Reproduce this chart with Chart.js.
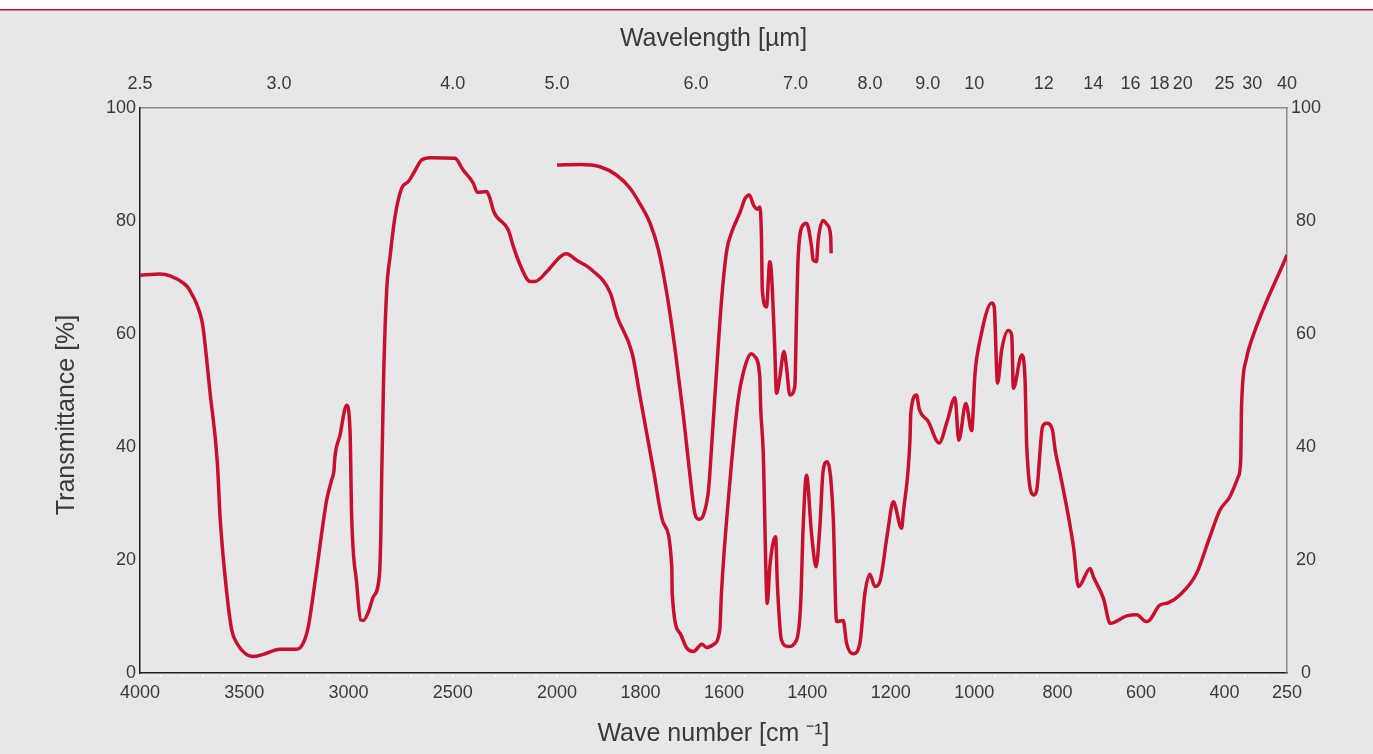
<!DOCTYPE html>
<html>
<head>
<meta charset="utf-8">
<script src="https://cdn.jsdelivr.net/npm/chart.js@4/dist/chart.umd.min.js"></script>
<style>
  html, body { margin: 0; padding: 0; background: #e6e7e8; }
  #wrap { position: relative; width: 1373px; height: 754px; }
</style>
</head>
<body>
<div id="wrap"><canvas id="irChart"></canvas></div>
<script>
// Main spectrum (wave number in cm-1, transmittance in %)
const mainWavenumbers = [
  4000, 3904, 3856, 3792, 3768, 3704, 3696, 3664, 3629, 3616, 3584, 3560, 3536, 3497, 3457,
  3409, 3329, 3249, 3217, 3193, 3153, 3105, 3081, 3070, 3066, 3041, 3009, 2993, 2985, 2961,
  2942, 2929, 2905, 2881, 2852, 2845, 2841, 2832, 2817, 2801, 2777, 2745, 2713, 2689, 2649,
  2609, 2490, 2450, 2402, 2383, 2338, 2322, 2303, 2234, 2210, 2170, 2130, 2106, 2050, 1992,
  1978, 1952, 1916, 1872, 1856, 1820, 1801, 1769, 1745, 1725, 1724, 1705, 1689, 1673, 1653,
  1641, 1626, 1610, 1606, 1586, 1566, 1554, 1534, 1526, 1514, 1512, 1506, 1496, 1490, 1476,
  1472, 1462, 1446, 1426, 1416, 1410, 1402, 1390, 1379, 1370, 1362, 1352, 1338, 1330, 1314,
  1306, 1290, 1274, 1262, 1250, 1238, 1226, 1208, 1194, 1174, 1170, 1154, 1152, 1138, 1132,
  1110, 1084, 1065, 1046, 1037, 1020, 1006, 998, 986, 958, 952, 944, 934, 918, 910,
  906, 886, 878, 874, 857, 850, 836, 826, 812, 806, 794, 762, 750, 722, 714,
  690, 674, 634, 610, 588, 579, 555, 535, 507, 467, 435, 411, 387, 367, 361,
  359, 348, 335, 250
];
const mainTransmittance = [
  70.4, 70.6, 70.3, 69.0, 68.1, 62.5, 60.7, 49.6, 37.2, 27.6, 14.2, 7.6, 5.3, 3.5, 2.9,
  3.3, 4.2, 4.2, 5.3, 8.2, 18.2, 30.6, 34.2, 35.8, 38.0, 42.1, 47.4, 43.0, 27.7, 15.9,
  9.4, 9.3, 10.8, 13.5, 17.3, 25.0, 35.0, 52.0, 67.8, 73.7, 80.8, 85.8, 87.0, 88.4, 90.8,
  91.2, 91.1, 89.0, 86.7, 85.1, 85.2, 84.0, 81.6, 78.4, 75.5, 71.6, 69.3, 69.3, 71.0, 73.7,
  74.2, 73.0, 71.3, 67.2, 63.1, 56.6, 48.9, 35.9, 26.5, 18.8, 14.1, 7.0, 4.4, 3.8, 5.1,
  4.5, 5.0, 7.6, 14.1, 33.6, 48.3, 53.0, 56.5, 56.0, 52.4, 47.1, 39.5, 12.3, 18.8, 24.1,
  16.0, 5.8, 4.7, 5.8, 12.3, 25.9, 35.0, 24.7, 18.8, 25.9, 35.9, 37.4, 27.7, 9.1, 9.3,
  5.3, 3.4, 5.3, 14.1, 17.5, 15.3, 16.2, 24.7, 30.3, 25.6, 28.3, 41.2, 46.0, 49.2, 46.8,
  44.5, 40.7, 44.5, 48.7, 41.2, 47.7, 42.9, 53.0, 58.9, 65.5, 64.8, 51.3, 57.2, 60.6, 59.8,
  50.4, 56.3, 51.9, 40.1, 31.5, 32.4, 43.6, 44.2, 42.9, 39.5, 35.3, 22.4, 15.3, 18.5, 17.0,
  13.2, 8.8, 10.1, 10.3, 9.1, 9.4, 12.0, 12.4, 13.8, 17.6, 24.1, 28.8, 31.2, 34.7, 37.7,
  47.1, 55.4, 58.9, 74.0
];

// Second (thinner sample) trace between 2000 and ~1340 cm-1
const thinWavenumbers = [
  2000, 1945, 1897, 1857, 1825, 1801, 1777, 1757, 1737, 1717, 1697, 1681, 1669, 1659, 1649,
  1637, 1629, 1617, 1605, 1593, 1581, 1561, 1549, 1539, 1529, 1520, 1514, 1510, 1508, 1498,
  1490, 1486, 1478, 1474, 1466, 1456, 1450, 1442, 1430, 1426, 1422, 1410, 1402, 1390, 1386,
  1378, 1374, 1362, 1352, 1344, 1343
];
const thinTransmittance = [
  89.9, 90.0, 89.6, 88.1, 85.8, 83.0, 79.6, 74.9, 67.2, 57.2, 45.4, 34.7, 28.0, 27.2, 28.0,
  32.4, 40.7, 54.2, 66.6, 74.9, 78.1, 81.6, 84.0, 84.6, 82.8, 82.1, 82.5, 77.2, 67.8, 64.8,
  72.8, 70.7, 57.2, 49.5, 52.4, 56.9, 54.2, 49.2, 50.7, 63.1, 73.7, 79.3, 79.6, 75.5, 73.1,
  72.8, 76.6, 80.1, 79.3, 77.2, 74.3
];

// Axis ticks
const waveNumberTicks = [4000, 3500, 3000, 2500, 2000, 1800, 1600, 1400, 1200, 1000, 800, 600, 400, 250];
const wavelengthTicks = [2.5, 3.0, 4.0, 5.0, 6.0, 7.0, 8.0, 9.0, 10, 12, 14, 16, 18, 20, 25, 30, 40];
const wavelengthLabels = ['2.5', '3.0', '4.0', '5.0', '6.0', '7.0', '8.0', '9.0', '10', '12', '14', '16', '18', '20', '25', '30', '40'];
const transmittanceTicks = [0, 20, 40, 60, 80, 100];

// The x axis changes scale at 2000 cm-1 (double stretch below 2000)
function toPos(w) {
  return w >= 2000 ? (4000 - w) / 2 : 1000 + (2000 - w);
}

const RED = '#c8102e';
const TEXT = '#3a3a3a';
const FONT = "'Liberation Sans', Arial, sans-serif";

const backdrop = {
  id: 'backdrop',
  beforeDraw(chart) {
    const { ctx, width, height } = chart;
    ctx.save();
    ctx.fillStyle = '#e6e7e8';
    ctx.fillRect(0, 0, width, height);
    ctx.fillStyle = '#ffffff';
    ctx.fillRect(0, 0, width, 9);
    ctx.fillStyle = RED;
    ctx.fillRect(0, 9, width, 1.5);
    ctx.restore();
  },
  afterDraw(chart) {
    const { ctx } = chart;
    const xs = chart.scales.x;
    const area = chart.chartArea;
    ctx.save();
    // little white minor ticks under the bottom axis
    ctx.fillStyle = '#ffffff';
    let w = 3900;
    while (w > 250) {
      const px = xs.getPixelForValue(toPos(w));
      ctx.fillRect(Math.round(px) - 1, area.bottom + 2, 2, 1.5);
      w -= w > 2000 ? 100 : 50;
    }
    // y axis title, sitting a bit below the middle as in the original
    ctx.fillStyle = TEXT;
    ctx.font = '25px ' + FONT;
    ctx.textAlign = 'center';
    ctx.textBaseline = 'middle';
    ctx.translate(67, 415);
    ctx.rotate(-Math.PI / 2);
    ctx.fillText('Transmittance [%]', 0, 0);
    ctx.restore();
  }
};

const ctx = document.getElementById('irChart').getContext('2d');

new Chart(ctx, {
  type: 'line',
  data: {
    datasets: [
      {
        data: mainWavenumbers.map((w, i) => ({ x: toPos(w), y: mainTransmittance[i] })),
        borderColor: RED,
        borderWidth: 3.5,
        pointRadius: 0,
        cubicInterpolationMode: 'monotone',
        borderJoinStyle: 'round'
      },
      {
        data: thinWavenumbers.map((w, i) => ({ x: toPos(w), y: thinTransmittance[i] })),
        borderColor: RED,
        borderWidth: 3.5,
        pointRadius: 0,
        cubicInterpolationMode: 'monotone',
        borderJoinStyle: 'round'
      }
    ]
  },
  options: {
    responsive: true,
    maintainAspectRatio: false,
    animation: false,
    layout: { padding: 0 },
    plugins: {
      legend: { display: false },
      tooltip: { enabled: false }
    },
    scales: {
      x: {
        type: 'linear',
        position: 'bottom',
        min: 0,
        max: toPos(250),
        afterFit: (scale) => { scale.height = 81; },
        afterBuildTicks: (scale) => {
          scale.ticks = waveNumberTicks.map(w => ({ value: toPos(w) }));
        },
        grid: { display: false, drawTicks: false },
        border: { display: true, color: '#1e1e1e', width: 1.5 },
        ticks: {
          autoSkip: false,
          maxRotation: 0,
          padding: 9,
          color: TEXT,
          font: { family: FONT, size: 18 },
          callback: (value, index) => String(waveNumberTicks[index])
        },
        title: {
          display: true,
          text: 'Wave number [cm ⁻¹]',
          color: TEXT,
          font: { family: FONT, size: 25 },
          padding: { top: 0, bottom: 5 }
        }
      },
      x2: {
        type: 'linear',
        position: 'top',
        min: 0,
        max: toPos(250),
        afterFit: (scale) => { scale.height = 108; },
        afterBuildTicks: (scale) => {
          scale.ticks = wavelengthTicks.map(l => ({ value: toPos(10000 / l) }));
        },
        grid: { display: false, drawTicks: false },
        border: { display: true, color: '#8c8c8c', width: 1.5 },
        ticks: {
          autoSkip: false,
          maxRotation: 0,
          padding: 13,
          color: TEXT,
          font: { family: FONT, size: 18 },
          callback: (value, index) => wavelengthLabels[index]
        },
        title: {
          display: true,
          text: 'Wavelength [µm]',
          color: TEXT,
          font: { family: FONT, size: 25 },
          padding: { top: 24, bottom: 0 }
        }
      },
      y: {
        position: 'left',
        min: 0,
        max: 100,
        afterFit: (scale) => { scale.width = 140; },
        afterBuildTicks: (scale) => {
          scale.ticks = transmittanceTicks.map(v => ({ value: v }));
        },
        grid: { display: false, drawTicks: false },
        border: { display: true, color: '#1e1e1e', width: 1.5 },
        ticks: {
          padding: 4,
          color: TEXT,
          font: { family: FONT, size: 18 }
        }
      },
      y2: {
        position: 'right',
        min: 0,
        max: 100,
        afterFit: (scale) => { scale.width = 86; },
        afterBuildTicks: (scale) => {
          scale.ticks = transmittanceTicks.map(v => ({ value: v }));
        },
        grid: { display: false, drawTicks: false },
        border: { display: true, color: '#8c8c8c', width: 1.5 },
        ticks: {
          padding: 4,
          crossAlign: 'center',
          color: TEXT,
          font: { family: FONT, size: 18 }
        }
      }
    }
  },
  plugins: [backdrop]
});
</script>
</body>
</html>
